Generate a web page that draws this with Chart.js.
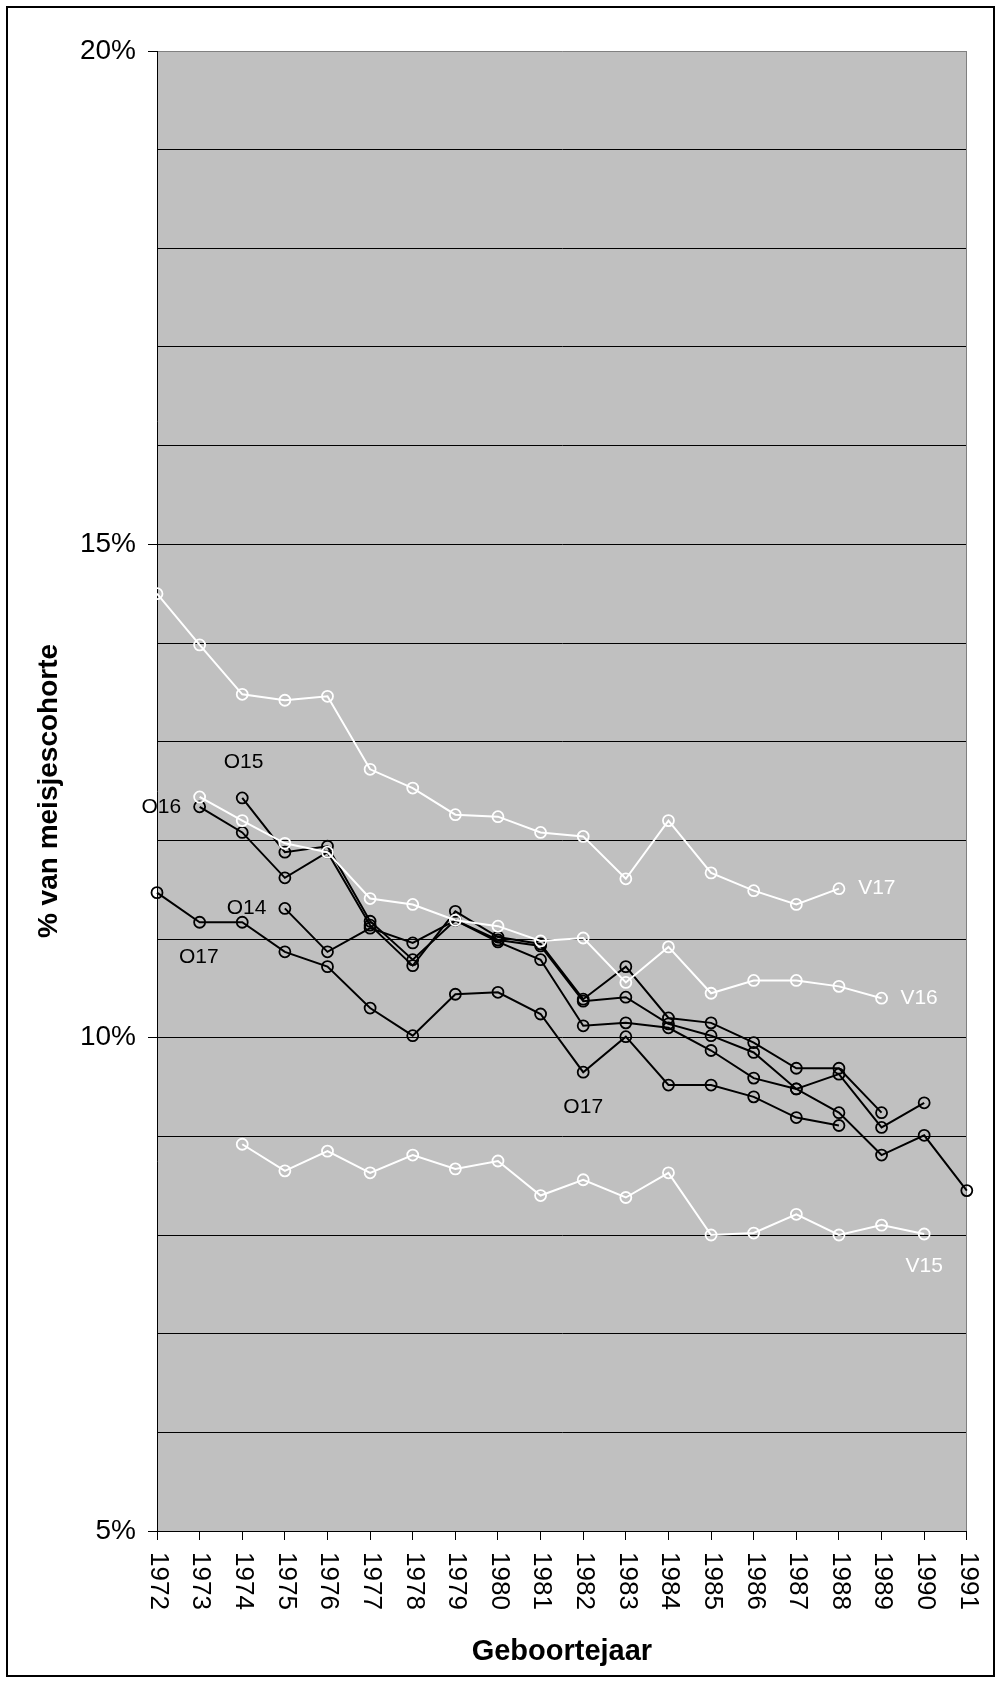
<!DOCTYPE html>
<html>
<head>
<meta charset="utf-8">
<script src="https://cdn.jsdelivr.net/npm/chart.js@4/dist/chart.umd.min.js"></script>
<style>
  html, body { margin: 0; padding: 0; background: #fff; }
  #wrap { width: 1001px; height: 1683px; }
</style>
</head>
<body>
<div id="wrap"><canvas id="c" width="1001" height="1683"></canvas></div>
<script>
// ---- data (percent of girls' cohort), birth years 1972..1991 ----
const years = ['1972','1973','1974','1975','1976','1977','1978','1979','1980','1981',
               '1982','1983','1984','1985','1986','1987','1988','1989','1990','1991'];
const yTicks = [5, 10, 15, 20];

const v17 = [14.50, 13.98, 13.48, 13.42, 13.46, 12.72, 12.53, 12.26, 12.24, 12.08, 12.04, 11.61, 12.20, 11.67, 11.49, 11.35, 11.51, null, null, null];
const v16 = [null, 12.44, 12.20, 11.97, 11.88, 11.41, 11.35, 11.19, 11.13, 10.98, 11.01, 10.56, 10.92, 10.45, 10.58, 10.58, 10.52, 10.40, null, null];
const v15 = [null, null, 8.92, 8.65, 8.85, 8.63, 8.81, 8.67, 8.75, 8.40, 8.56, 8.38, 8.63, 8.00, 8.02, 8.21, 8.00, 8.10, 8.01, null];
const o17 = [11.47, 11.17, 11.17, 10.87, 10.72, 10.30, 10.02, 10.44, 10.46, 10.24, 9.65, 10.01, 9.52, 9.52, 9.40, 9.19, 9.11, null, null, null];
const o16 = [null, 12.34, 12.08, 11.62, 11.88, 11.14, 10.73, 11.28, 11.02, 10.95, 10.39, 10.72, 10.20, 10.15, 9.95, 9.69, 9.69, 9.24, null, null];
const o15 = [null, null, 12.43, 11.88, 11.94, 11.18, 10.79, 11.19, 10.99, 10.93, 10.37, 10.41, 10.14, 10.02, 9.85, 9.48, 9.63, 9.09, 9.34, null];
const o14 = [null, null, null, 11.31, 10.87, 11.11, 10.96, 11.19, 10.97, 10.79, 10.12, 10.15, 10.10, 9.87, 9.59, 9.48, 9.24, 8.81, 9.01, 8.45];

// series labels placed in data units (category index, value)
const labelText  = ['O15', 'O16', 'O14', 'O17', 'O17', 'V17', 'V16', 'V15'];
const labelIndex = [2.03, 0.10, 2.10, 0.98, 10.0, 16.89, 17.88, 18.0];
const labelValue = [12.79, 12.34, 11.31, 10.82, 9.30, 11.51, 10.40, 7.68];
const labelWhite = [false, false, false, false, false, true, true, true];

const FONT = '"Liberation Sans", Arial, Helvetica, sans-serif';

function series(label, data, color) {
  return {
    label, data,
    borderColor: color, backgroundColor: color,
    borderWidth: 2,
    pointStyle: 'circle', pointRadius: 5.5, pointHoverRadius: 5.5,
    pointBorderWidth: 1.8, pointBorderColor: color,
    pointBackgroundColor: 'rgba(0,0,0,0)',
    tension: 0, spanGaps: false, fill: false
  };
}

const decor = {
  id: 'decor',
  beforeDraw(chart) {
    const {ctx, chartArea: a} = chart;
    ctx.save();
    ctx.fillStyle = '#ffffff';
    ctx.fillRect(0, 0, chart.width, chart.height);
    ctx.fillStyle = '#C0C0C0';
    ctx.fillRect(a.left, a.top, a.right - a.left, a.bottom - a.top);
    ctx.restore();
  },
  beforeDatasetsDraw(chart) {
    const {ctx, chartArea: a} = chart;
    ctx.save();
    ctx.strokeStyle = '#808080';
    ctx.lineWidth = 1;
    ctx.beginPath();
    ctx.moveTo(Math.round(a.right) - 0.5, a.top);
    ctx.lineTo(Math.round(a.right) - 0.5, a.bottom);
    ctx.stroke();
    ctx.restore();
  },
  afterDatasetsDraw(chart) {
    const {ctx} = chart;
    const xs = chart.scales.x, ys = chart.scales.y;
    ctx.save();
    ctx.font = '21px ' + FONT;
    ctx.textAlign = 'center';
    ctx.textBaseline = 'middle';
    labelText.forEach((t, i) => {
      ctx.fillStyle = labelWhite[i] ? '#ffffff' : '#000000';
      ctx.fillText(t, xs.getPixelForValue(labelIndex[i]), ys.getPixelForValue(labelValue[i]));
    });
    ctx.restore();
  },
  afterDraw(chart) {
    const {ctx, chartArea: a} = chart;
    const xs = chart.scales.x;
    ctx.save();
    ctx.font = '26px ' + FONT;
    ctx.fillStyle = '#000';
    ctx.textAlign = 'left';
    ctx.textBaseline = 'middle';
    years.forEach((yr, i) => {
      ctx.save();
      ctx.translate(xs.getPixelForValue(i) + 1, a.bottom + 21);
      ctx.rotate(Math.PI / 2);
      ctx.fillText(yr, 0, 0);
      ctx.restore();
    });
    ctx.strokeStyle = '#000';
    ctx.lineWidth = 2;
    ctx.strokeRect(7, 7, chart.width - 14, chart.height - 14);
    ctx.restore();
  }
};

new Chart(document.getElementById('c'), {
  type: 'line',
  data: {
    labels: years,
    datasets: [
      series('V17', v17, '#ffffff'),
      series('V16', v16, '#ffffff'),
      series('V15', v15, '#ffffff'),
      series('O17', o17, '#000000'),
      series('O16', o16, '#000000'),
      series('O15', o15, '#000000'),
      series('O14', o14, '#000000')
    ]
  },
  options: {
    responsive: false,
    animation: false,
    devicePixelRatio: 1,
    events: [],
    layout: { padding: { top: 51, right: 34, left: 0, bottom: 0 } },
    plugins: { legend: { display: false }, tooltip: { enabled: false }, title: { display: false } },
    scales: {
      x: {
        type: 'category',
        offset: false,
        grid: { display: true, drawOnChartArea: false, drawTicks: true, tickLength: 9, tickColor: '#000', offset: false },
        border: { display: true, color: '#000', width: 1 },
        ticks: { display: true, color: 'rgba(0,0,0,0)', autoSkip: false, minRotation: 90, maxRotation: 90, font: { family: FONT, size: 26 } },
        title: { display: true, text: 'Geboortejaar', color: '#000', font: { family: FONT, size: 29, weight: 'bold' }, padding: { top: 4, bottom: 14 } },
        afterFit(scale) { scale.height = 152; }
      },
      y: {
        min: 5, max: 20,
        grid: {
          color: (c) => (c.tick && c.tick.value === 20) ? '#808080' : '#000000',
          lineWidth: 1,
          tickLength: 9,
          tickColor: (c) => (c.tick && yTicks.includes(c.tick.value)) ? '#000000' : 'rgba(0,0,0,0)'
        },
        border: { display: true, color: '#000', width: 1 },
        ticks: {
          stepSize: 1,
          padding: 12,
          color: '#000',
          font: { family: FONT, size: 28 },
          callback: (v) => yTicks.includes(v) ? v + '%' : ''
        },
        title: { display: true, text: '% van meisjescohorte', color: '#000', font: { family: FONT, size: 28, weight: 'bold' }, padding: { top: 32, bottom: 4 } },
        afterFit(scale) { scale.width = 157; }
      }
    }
  },
  plugins: [decor]
});
</script>
</body>
</html>
